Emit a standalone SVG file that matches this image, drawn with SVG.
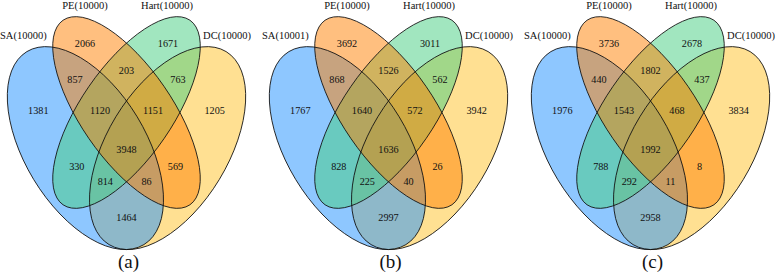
<svg xmlns="http://www.w3.org/2000/svg" xmlns:xlink="http://www.w3.org/1999/xlink" width="777" height="274" viewBox="0 0 777 274">
  <style>
    .sa{fill:#1E90FF;fill-opacity:.5}
    .pe{fill:#FF7F00;fill-opacity:.5}
    .hart{fill:#43CD80;fill-opacity:.5}
    .dc{fill:#FFC125;fill-opacity:.5}
    .line{fill:none;stroke:#111;stroke-width:.8}
    text{font-family:"Liberation Serif","Times New Roman",serif;fill:#111;text-anchor:middle}
    .n{font-size:10.2px}
    .lab{font-size:10.5px}
    .cap{font-size:19px}
  </style>
  <defs>
    <ellipse id="e-sa" cx="85.4" cy="148.1" rx="112.86" ry="60.5" transform="rotate(58.77 85.4 148.1)"/>
    <ellipse id="e-dc" cx="167.6" cy="148.1" rx="112.86" ry="60.5" transform="rotate(-58.77 167.6 148.1)"/>
    <ellipse id="e-pe" cx="126.5" cy="112.5" rx="111.98" ry="45.73" transform="rotate(55.5 126.5 112.5)"/>
    <ellipse id="e-hart" cx="126.5" cy="112.5" rx="111.98" ry="45.73" transform="rotate(-55.5 126.5 112.5)"/>
    <g id="venn">
      <use xlink:href="#e-dc" class="dc"/>
      <use xlink:href="#e-sa" class="sa"/>
      <use xlink:href="#e-hart" class="hart"/>
      <use xlink:href="#e-pe" class="pe"/>
      <use xlink:href="#e-dc" class="line"/>
      <use xlink:href="#e-sa" class="line"/>
      <use xlink:href="#e-hart" class="line"/>
      <use xlink:href="#e-pe" class="line"/>
    </g>
  </defs>

  <g id="panel-a">
    <use xlink:href="#venn"/>
    <g id="labels-a">
      <text class="lab" x="23.3" y="38.5">SA(10000)</text>
      <text class="lab" x="85" y="8.5">PE(10000)</text>
      <text class="lab" x="167" y="8.5">Hart(10000)</text>
      <text class="lab" x="227" y="38.5">DC(10000)</text>
    </g>
    <g id="counts-a">
      <text class="n" x="85" y="46.8">2066</text>
      <text class="n" x="168" y="46.8">1671</text>
      <text class="n" x="75" y="82.8">857</text>
      <text class="n" x="126.5" y="74.2">203</text>
      <text class="n" x="178" y="82.8">763</text>
      <text class="n" x="38.3" y="113.5">1381</text>
      <text class="n" x="100" y="113.5">1120</text>
      <text class="n" x="153" y="113.5">1151</text>
      <text class="n" x="214.7" y="113.5">1205</text>
      <text class="n" x="126.5" y="153">3948</text>
      <text class="n" x="76.8" y="170.3">330</text>
      <text class="n" x="175.5" y="170.3">569</text>
      <text class="n" x="105.3" y="185.3">814</text>
      <text class="n" x="146.5" y="185.3">86</text>
      <text class="n" x="126.5" y="220.8">1464</text>
    </g>
    <text class="cap" x="128.5" y="268">(a)</text>
  </g>

  <g id="panel-b" transform="translate(262 0)">
    <use xlink:href="#venn"/>
    <g id="labels-b">
      <text class="lab" x="23.3" y="38.5">SA(10001)</text>
      <text class="lab" x="85" y="8.5">PE(10000)</text>
      <text class="lab" x="167" y="8.5">Hart(10000)</text>
      <text class="lab" x="227" y="38.5">DC(10000)</text>
    </g>
    <g id="counts-b">
      <text class="n" x="85" y="46.8">3692</text>
      <text class="n" x="168" y="46.8">3011</text>
      <text class="n" x="75" y="82.8">868</text>
      <text class="n" x="126.5" y="74.2">1526</text>
      <text class="n" x="178" y="82.8">562</text>
      <text class="n" x="38.3" y="113.5">1767</text>
      <text class="n" x="100" y="113.5">1640</text>
      <text class="n" x="153" y="113.5">572</text>
      <text class="n" x="214.7" y="113.5">3942</text>
      <text class="n" x="126.5" y="153">1636</text>
      <text class="n" x="76.8" y="170.3">828</text>
      <text class="n" x="175.5" y="170.3">26</text>
      <text class="n" x="105.3" y="185.3">225</text>
      <text class="n" x="146.5" y="185.3">40</text>
      <text class="n" x="126.5" y="220.8">2997</text>
    </g>
    <text class="cap" x="128.5" y="268">(b)</text>
  </g>

  <g id="panel-c" transform="translate(524 0)">
    <use xlink:href="#venn"/>
    <g id="labels-c">
      <text class="lab" x="23.3" y="38.5">SA(10000)</text>
      <text class="lab" x="85" y="8.5">PE(10000)</text>
      <text class="lab" x="167" y="8.5">Hart(10000)</text>
      <text class="lab" x="227" y="38.5">DC(10000)</text>
    </g>
    <g id="counts-c">
      <text class="n" x="85" y="46.8">3736</text>
      <text class="n" x="168" y="46.8">2678</text>
      <text class="n" x="75" y="82.8">440</text>
      <text class="n" x="126.5" y="74.2">1802</text>
      <text class="n" x="178" y="82.8">437</text>
      <text class="n" x="38.3" y="113.5">1976</text>
      <text class="n" x="100" y="113.5">1543</text>
      <text class="n" x="153" y="113.5">468</text>
      <text class="n" x="214.7" y="113.5">3834</text>
      <text class="n" x="126.5" y="153">1992</text>
      <text class="n" x="76.8" y="170.3">788</text>
      <text class="n" x="175.5" y="170.3">8</text>
      <text class="n" x="105.3" y="185.3">292</text>
      <text class="n" x="146.5" y="185.3">11</text>
      <text class="n" x="126.5" y="220.8">2958</text>
    </g>
    <text class="cap" x="128.5" y="268">(c)</text>
  </g>
</svg>
